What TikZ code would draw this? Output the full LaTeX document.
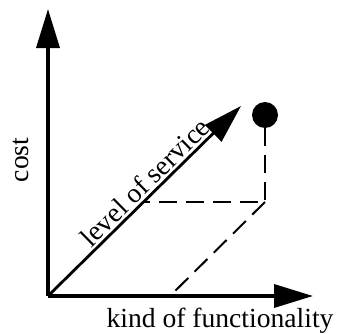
\documentclass[tikz,border=0pt]{standalone}
\usepackage{fontspec}
\setmainfont{Liberation Serif}
\usetikzlibrary{arrows.meta}
\tikzset{
    axis/.style={line width=3.5pt, -{Triangle[length=39pt, width=23pt]}},
    level/.style={line width=2.8pt, -{Triangle[length=39pt, width=23pt]}},
    guide/.style={line width=2pt, dash pattern=on 18pt off 9pt},
    label/.style={font=\fontsize{27.6}{32}\selectfont}
}

\begin{document}
\begin{tikzpicture}[x=1pt, y=1pt]
    \useasboundingbox (0,0) rectangle (343,333);
    \coordinate (o) at (48,37);
    \coordinate (ytip) at (48,324);
    \coordinate (xtip) at (313,37);
    \coordinate (dtip) at (241,227);
    \coordinate (corner) at (265,131);
    \coordinate (meet) at (144,131);
    \coordinate (foot) at (170,37);
    \node[circle, fill=black, minimum size=26pt, inner sep=0pt] (pt) at (265,218) {};
    \draw[axis] (o) -- (ytip);
    \draw[axis] (o) -- (xtip);
    \draw[level] (o) -- node[label, pos=0.55, above, sloped, inner sep=2pt] (lvl) {level of service} (dtip);
    \draw[guide] (pt.south) -- (corner) -- (meet);
    \draw[guide] (corner) -- (foot);
    \node[label, rotate=90] (cost) at (21,173) {cost};
    \node[label, anchor=base] (kind) at (220,6) {kind of functionality};
\end{tikzpicture}
\end{document}
